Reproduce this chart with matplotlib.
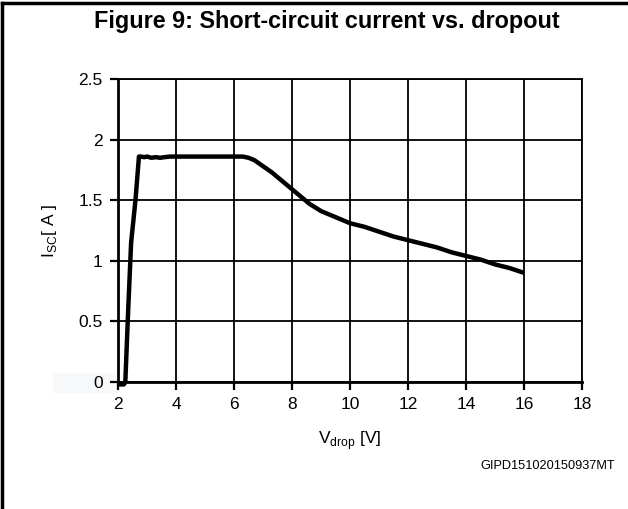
import numpy as np
import matplotlib.pyplot as plt
from matplotlib.patches import Rectangle

plt.rcParams['font.family'] = ['Liberation Sans', 'DejaVu Sans']

# short-circuit current vs dropout voltage
v_drop = [2.0, 2.2, 2.25, 2.35, 2.45, 2.6, 2.72, 2.8, 2.9, 3.0, 3.15, 3.3,
          3.45, 3.6, 3.8, 4.0, 5.0, 6.0, 6.3, 6.5, 6.7, 7.0, 7.3, 7.6, 8.0,
          8.3, 8.6, 9.0, 9.5, 10.0, 10.5, 11.0, 11.5, 12.0, 12.5, 13.0, 13.5,
          14.0, 14.5, 15.0, 15.5, 16.0]
i_sc = [-0.02, -0.02, 0.0, 0.6, 1.15, 1.5, 1.86, 1.86, 1.855, 1.86, 1.85, 1.855,
        1.85, 1.855, 1.86, 1.86, 1.86, 1.86, 1.86, 1.85, 1.83, 1.78, 1.73, 1.67,
        1.59, 1.53, 1.47, 1.41, 1.36, 1.31, 1.28, 1.24, 1.20, 1.17, 1.14, 1.11,
        1.07, 1.04, 1.01, 0.97, 0.94, 0.90]

x_ticks = [2, 4, 6, 8, 10, 12, 14, 16, 18]
y_ticks = [0, 0.5, 1, 1.5, 2, 2.5]
y_tick_labels = ['0', '0.5', '1', '1.5', '2', '2.5']

fig = plt.figure(figsize=(6.28, 5.09), dpi=100)
ax = fig.add_axes([0.188, 0.2495, 0.739, 0.5953])

# faint grey patch behind the "0" label, as in the scan
fig.patches.append(Rectangle((0.084, 0.23), 0.104, 0.037, transform=fig.transFigure,
                             color='#f6f8fa', zorder=-5))

ax.plot(v_drop, i_sc, color='black', lw=3.2, solid_joinstyle='round',
        solid_capstyle='butt', zorder=3, clip_on=False)

ax.set_xlim(2, 18)
ax.set_ylim(0, 2.5)
ax.set_xticks(x_ticks)
ax.set_yticks(y_ticks)
ax.set_yticklabels(y_tick_labels)
ax.grid(True, color='black', lw=1.3)
ax.set_axisbelow(True)
for s in ax.spines.values():
    s.set_linewidth(1.3)
ax.spines['left'].set_linewidth(2)
ax.spines['bottom'].set_linewidth(2)
ax.tick_params(direction='out', length=6, width=1.6, labelsize=12.5, pad=5)

ax.set_xlabel('V$_{\\mathregular{drop}}$ [V]', fontsize=12.5, labelpad=12)
ax.set_ylabel('I$_{\\mathregular{SC}}$[ A ]', fontsize=12.5, labelpad=14)

fig.text(0.52, 0.945, 'Figure 9: Short-circuit current vs. dropout', ha='center',
         va='baseline', fontsize=16.8, fontweight='bold')
fig.text(0.98, 0.078, 'GIPD151020150937MT', ha='right', va='baseline', fontsize=9.2)

# page frame: top and left edges only
fig.add_artist(plt.Line2D([0.003, 0.003], [0, 0.994], color='black', lw=2.5,
                          transform=fig.transFigure))
fig.add_artist(plt.Line2D([0.003, 1.0], [0.994, 0.994], color='black', lw=2.5,
                          transform=fig.transFigure))

fig.savefig('out.png', dpi=100)
